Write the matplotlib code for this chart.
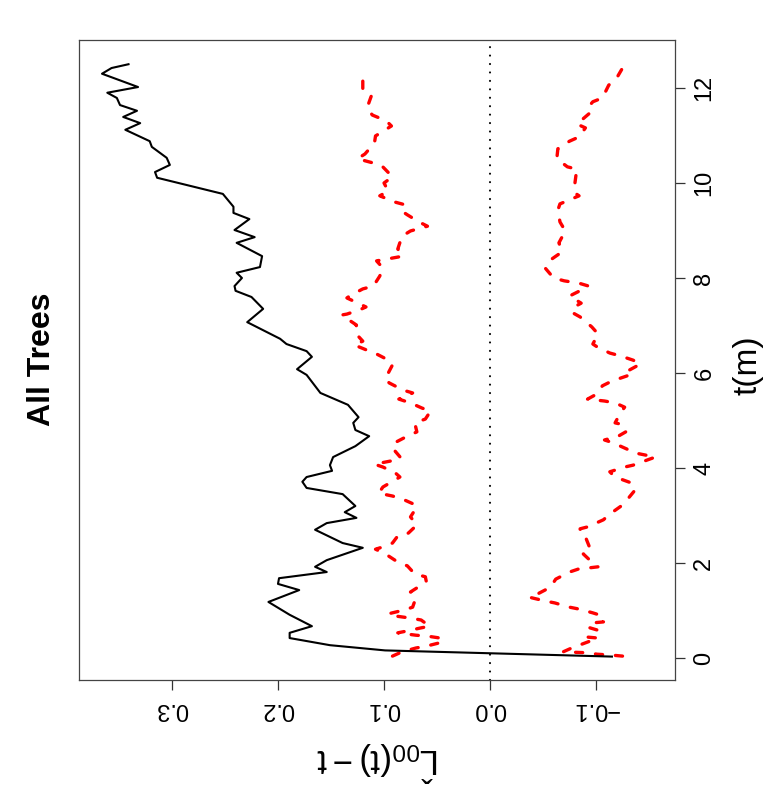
import matplotlib
matplotlib.use("Agg")
import matplotlib.pyplot as plt
import numpy as np

plt.rcParams['font.family'] = ['Liberation Sans', 'DejaVu Sans']
plt.rcParams['mathtext.fontset'] = 'custom'
plt.rcParams['mathtext.rm'] = 'Liberation Sans'
plt.rcParams['mathtext.it'] = 'Liberation Sans'

# observed L(t)-t
t_obs = [0.03, 0.16, 0.27, 0.42, 0.53, 0.67, 0.91, 1.18, 1.43, 1.56, 1.68, 1.81, 1.92, 2.06,
         2.32, 2.42, 2.70, 2.84, 2.95, 3.07, 3.20, 3.45, 3.58, 3.71, 3.81, 3.94, 4.06, 4.23,
         4.46, 4.67, 4.80, 4.95, 5.07, 5.33, 5.58, 5.96, 6.08, 6.34, 6.46, 6.61, 6.72, 7.07,
         7.35, 7.60, 7.73, 7.83, 8.00, 8.11, 8.23, 8.46, 8.74, 8.86, 9.01, 9.24, 9.37, 9.50,
         9.77, 10.11, 10.23, 10.38, 10.53, 10.76, 10.88, 11.12, 11.26, 11.39, 11.52, 11.64,
         11.79, 11.90, 12.02, 12.30, 12.42, 12.50]
L_obs = [-0.115, 0.099, 0.151, 0.189, 0.189, 0.168, 0.189, 0.209, 0.180, 0.200, 0.199, 0.154,
         0.165, 0.154, 0.120, 0.139, 0.165, 0.154, 0.126, 0.137, 0.127, 0.139, 0.173, 0.177,
         0.173, 0.149, 0.151, 0.148, 0.127, 0.114, 0.127, 0.129, 0.124, 0.134, 0.160, 0.173,
         0.182, 0.168, 0.173, 0.192, 0.198, 0.229, 0.214, 0.225, 0.240, 0.241, 0.234, 0.239,
         0.217, 0.215, 0.239, 0.222, 0.241, 0.227, 0.242, 0.242, 0.252, 0.314, 0.316, 0.302,
         0.305, 0.319, 0.321, 0.344, 0.330, 0.346, 0.333, 0.349, 0.352, 0.361, 0.332, 0.366,
         0.357, 0.341]

# upper envelope
t_hi = [0.04, 0.13, 0.21, 0.25, 0.34, 0.42, 0.46, 0.48, 0.53, 0.57, 0.63, 0.67, 0.80, 0.84,
        0.88, 0.93, 1.01, 1.07, 1.26, 1.39, 1.49, 1.60, 1.71, 1.77, 1.94, 2.02, 2.21, 2.29,
        2.36, 2.42, 2.57, 2.63, 2.80, 2.97, 3.18, 3.24, 3.35, 3.41, 3.47, 3.60, 3.81, 3.89,
        4.02, 4.08, 4.15, 4.21, 4.42, 4.53, 4.67, 4.76, 4.95, 5.03, 5.20, 5.26, 5.37, 5.45,
        5.58, 5.64, 5.79, 5.87, 6.17, 6.25, 6.40, 6.48, 6.59, 6.67, 6.84, 7.01, 7.22, 7.24,
        7.33, 7.39, 7.58, 7.64, 7.77, 7.83, 8.04, 8.21, 8.36, 8.40, 8.46, 8.61, 8.88, 8.99,
        9.09, 9.18, 9.33, 9.39, 9.54, 9.60, 9.73, 9.83, 10.00, 10.13, 10.36, 10.42, 10.51,
        10.61, 10.84, 10.99, 11.20, 11.31, 11.43, 11.58, 11.83, 11.94, 12.21, 12.34]
L_hi = [0.092, 0.083, 0.070, 0.060, 0.044, 0.047, 0.059, 0.070, 0.087, 0.078, 0.066, 0.057,
        0.065, 0.075, 0.088, 0.096, 0.081, 0.073, 0.070, 0.075, 0.068, 0.060, 0.061, 0.071,
        0.078, 0.087, 0.100, 0.108, 0.098, 0.092, 0.087, 0.077, 0.069, 0.075, 0.069, 0.072,
        0.083, 0.092, 0.105, 0.101, 0.085, 0.089, 0.101, 0.109, 0.093, 0.084, 0.092, 0.090,
        0.078, 0.069, 0.071, 0.061, 0.056, 0.064, 0.075, 0.086, 0.073, 0.082, 0.095, 0.099,
        0.092, 0.094, 0.107, 0.116, 0.128, 0.120, 0.127, 0.126, 0.140, 0.135, 0.123, 0.117,
        0.135, 0.131, 0.120, 0.110, 0.104, 0.101, 0.107, 0.097, 0.082, 0.087, 0.083, 0.075,
        0.059, 0.067, 0.078, 0.082, 0.080, 0.090, 0.104, 0.096, 0.100, 0.092, 0.102, 0.110,
        0.125, 0.118, 0.109, 0.108, 0.093, 0.098, 0.111, 0.116, 0.112, 0.120, 0.120, 0.124]

# lower envelope
t_lo = [0.04, 0.06, 0.08, 0.11, 0.13, 0.21, 0.42, 0.44, 0.59, 0.65, 0.74, 0.76, 0.88, 0.95,
        1.03, 1.07, 1.16, 1.20, 1.28, 1.35, 1.49, 1.66, 1.81, 1.87, 1.92, 2.00, 2.19, 2.27,
        2.55, 2.63, 2.72, 2.76, 2.91, 3.03, 3.22, 3.35, 3.54, 3.68, 3.81, 3.92, 4.02, 4.06,
        4.19, 4.23, 4.32, 4.40, 4.53, 4.59, 4.67, 4.76, 4.91, 4.95, 5.16, 5.28, 5.37, 5.41,
        5.45, 5.56, 5.73, 5.83, 5.96, 6.02, 6.19, 6.27, 6.36, 6.42, 6.55, 6.61, 6.82, 6.97,
        7.18, 7.28, 7.41, 7.47, 7.62, 7.71, 7.83, 7.89, 7.94, 8.00, 8.21, 8.38, 8.55, 8.74,
        8.99, 9.18, 9.43, 9.56, 9.73, 9.79, 9.98, 10.15, 10.29, 10.34, 10.51, 10.72, 10.88,
        10.97, 11.16, 11.24, 11.47, 11.58, 11.71, 11.79, 12.06, 12.19, 12.42, 12.50]
L_lo = [-0.125, -0.115, -0.101, -0.092, -0.069, -0.077, -0.102, -0.092, -0.101, -0.092,
        -0.097, -0.107, -0.107, -0.097, -0.084, -0.075, -0.061, -0.052, -0.037, -0.045,
        -0.057, -0.062, -0.075, -0.083, -0.102, -0.097, -0.088, -0.095, -0.090, -0.085,
        -0.085, -0.092, -0.107, -0.113, -0.125, -0.130, -0.137, -0.134, -0.118, -0.113,
        -0.127, -0.135, -0.151, -0.156, -0.136, -0.129, -0.116, -0.108, -0.121, -0.128,
        -0.126, -0.118, -0.123, -0.127, -0.118, -0.108, -0.092, -0.101, -0.106, -0.115,
        -0.132, -0.128, -0.142, -0.135, -0.123, -0.113, -0.101, -0.097, -0.102, -0.096,
        -0.085, -0.077, -0.081, -0.086, -0.075, -0.083, -0.093, -0.084, -0.070, -0.060,
        -0.052, -0.057, -0.068, -0.065, -0.071, -0.066, -0.064, -0.066, -0.084, -0.080,
        -0.080, -0.081, -0.082, -0.073, -0.063, -0.064, -0.075, -0.084, -0.090, -0.082,
        -0.094, -0.092, -0.097, -0.106, -0.112, -0.119, -0.125, -0.129]

L_ticks = [-0.1, 0.0, 0.1, 0.2, 0.3]
L_labels = ["\u22120.1", "0.0", "0.1", "0.2", "0.3"]
t_ticks = [0, 2, 4, 6, 8, 10, 12]

fig = plt.figure(figsize=(7.77, 8.0), dpi=100)
ax = fig.add_axes([79/777, 120/800, 596/777, 640/800])

ax.axvline(0, color='black', lw=1.5, linestyle=(0, (0.05, 4.0)), dash_capstyle='round')
dash = (0, (2.15, 3.85))
ax.plot(L_hi, t_hi, color='red', lw=2.4, linestyle=dash, dash_capstyle='round')
ax.plot(L_lo, t_lo, color='red', lw=2.4, linestyle=dash, dash_capstyle='round')
ax.plot(L_obs, t_obs, color='black', lw=1.5)

ax.set_xlim(0.3877, -0.1745)
ax.set_ylim(-0.463, 13.01)

ax.set_xticks(L_ticks)
ax.set_xticklabels(L_labels, rotation=180)
ax.set_yticks(t_ticks)
ax.set_yticklabels([str(v) for v in t_ticks], rotation=90, va='center')
ax.yaxis.tick_right()
ax.tick_params(axis='both', direction='out', length=7.2, width=0.9, labelsize=17, pad=6,
               color='#333333')
for s in ax.spines.values():
    s.set_linewidth(0.9)
    s.set_color('#444444')

fig.text(748/777, 1 - 365/800, "t(m)", rotation=90, fontsize=24, ha='center', va='center')
fig.text(378/777, 1 - 761/800, r"$\mathrm{\hat{L}_{00}(t) - t}$", rotation=180, fontsize=25,
         ha='center', va='center')
fig.text(42/777, 1 - 359/800, "All Trees", rotation=90, fontsize=23, fontweight='bold',
         ha='center', va='center')

fig.savefig("out.png", dpi=100)
